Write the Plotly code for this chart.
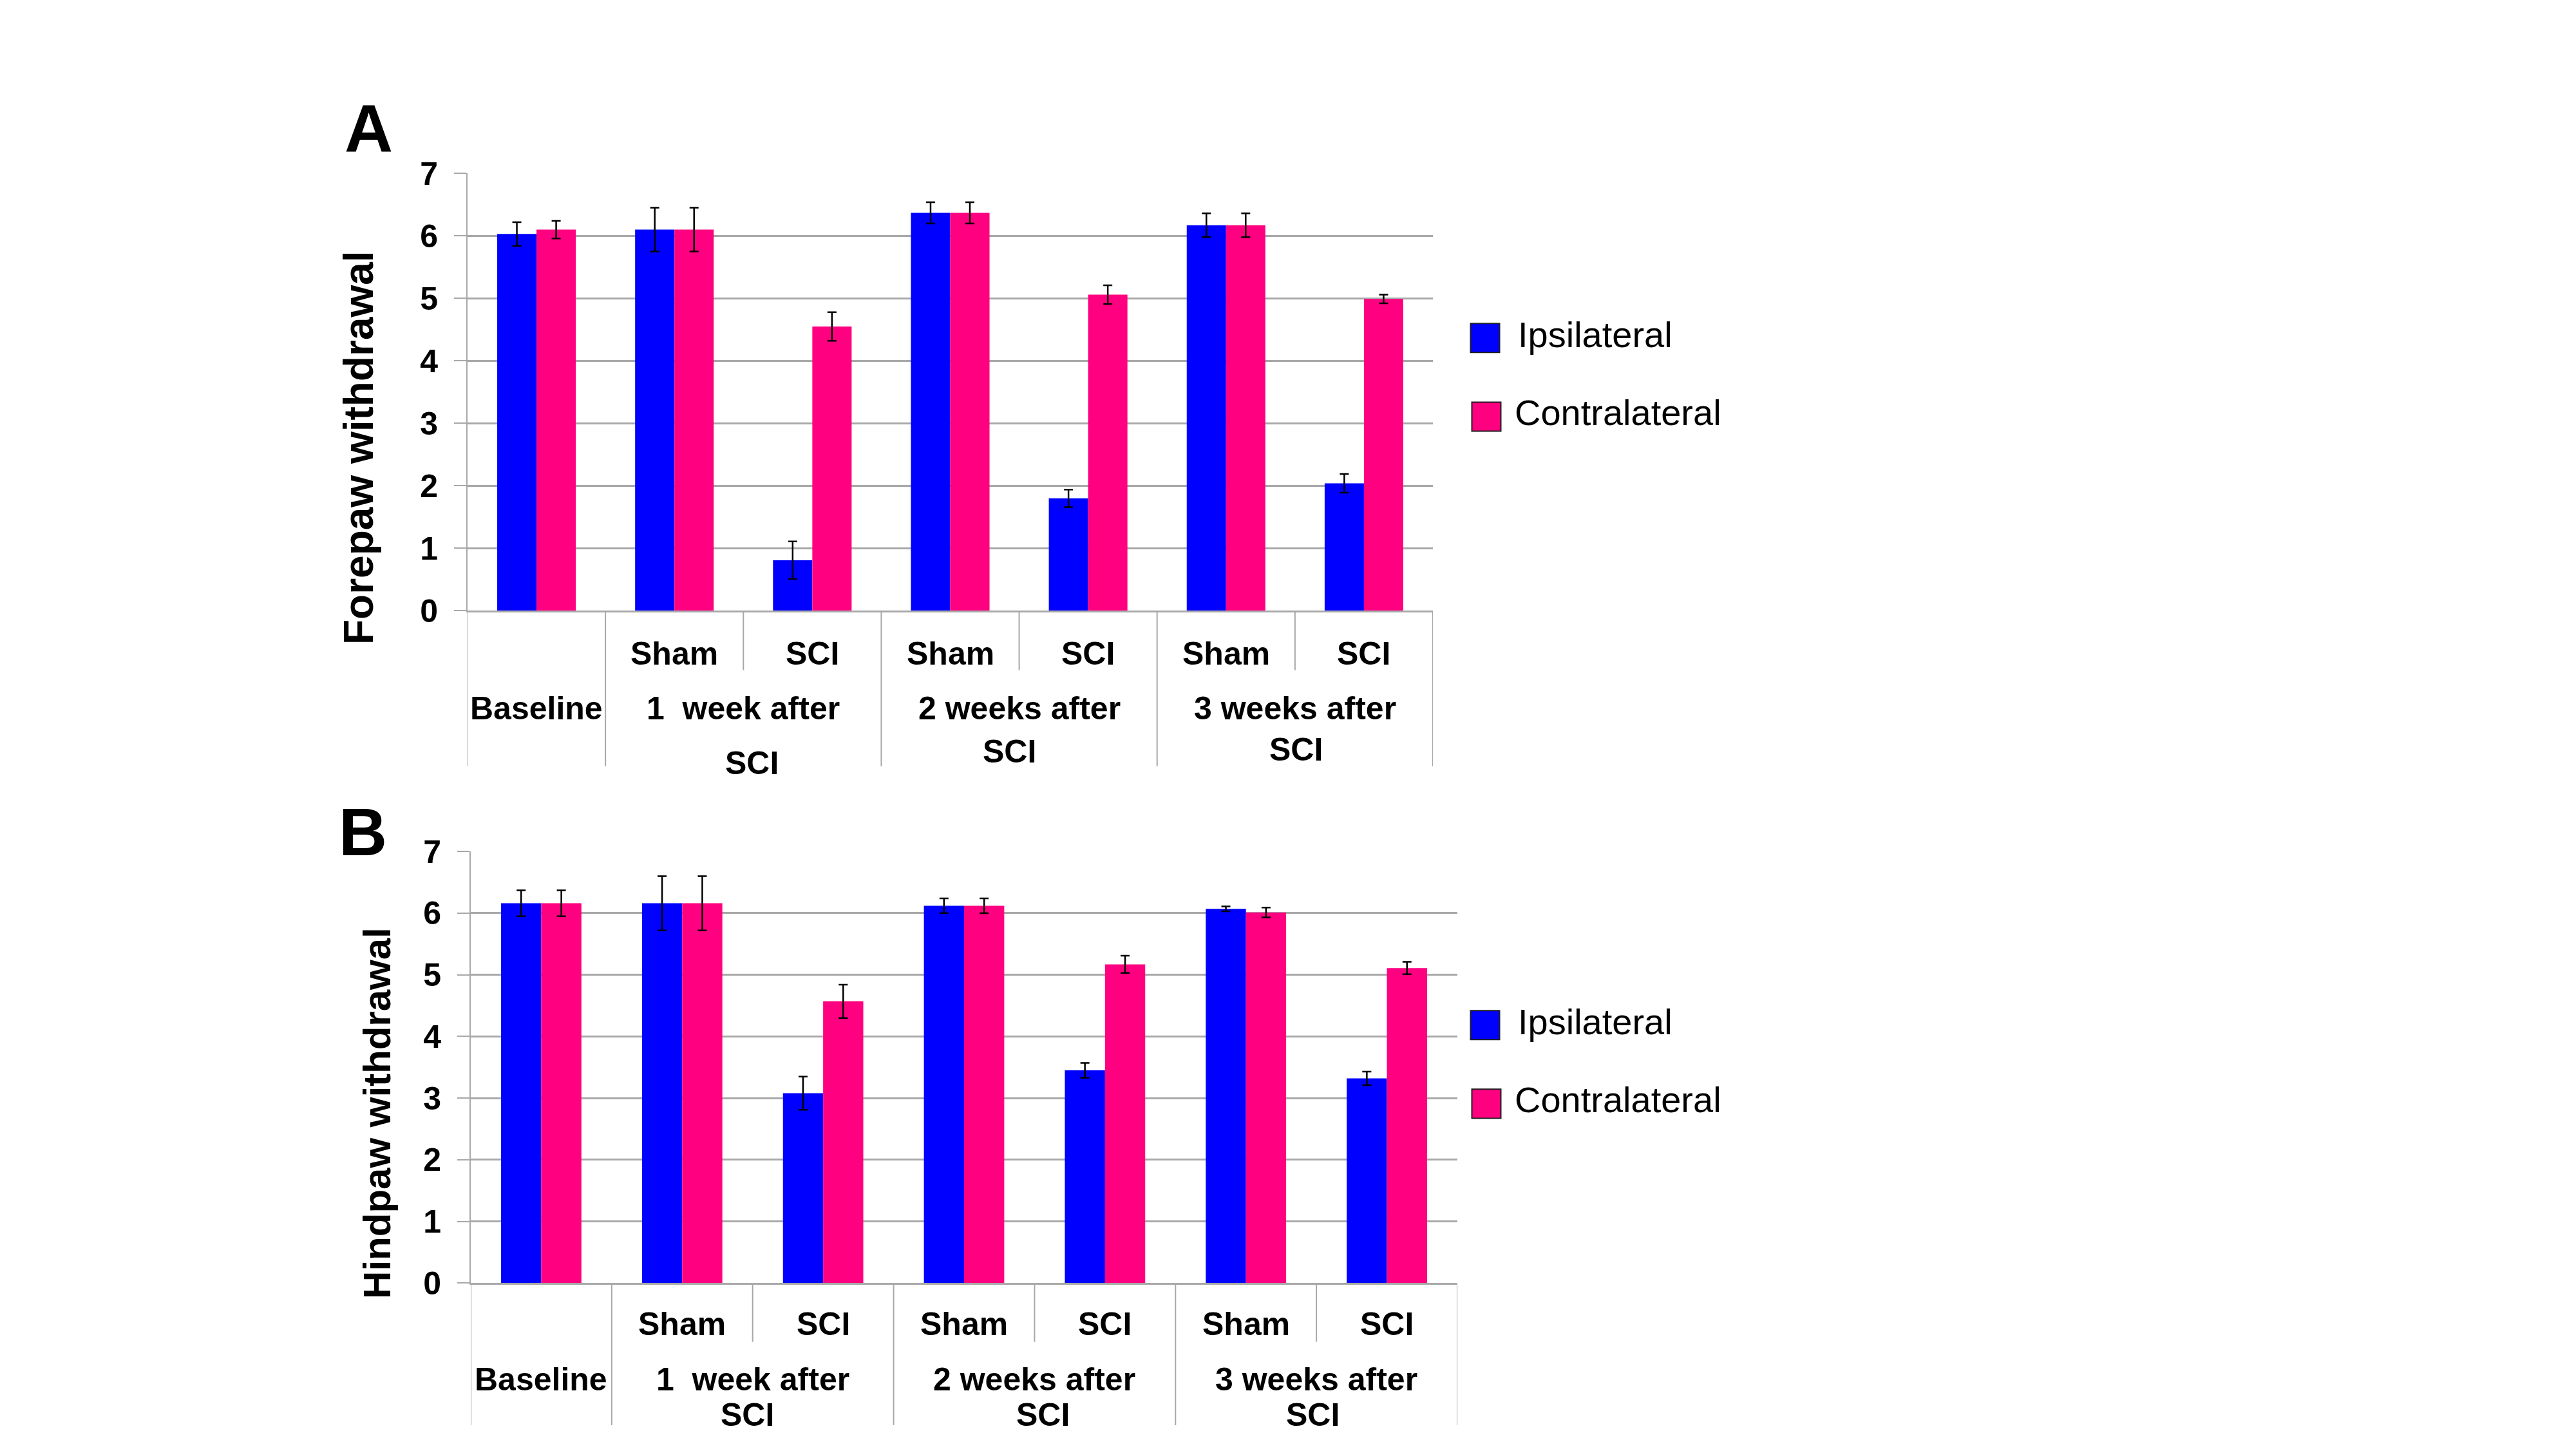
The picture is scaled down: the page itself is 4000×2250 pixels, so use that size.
import plotly.graph_objects as go

# ---------------- data ----------------
categories = ["Baseline", "1 week Sham", "1 week SCI", "2 weeks Sham", "2 weeks SCI", "3 weeks Sham", "3 weeks SCI"]
sub_labels = ["", "Sham", "SCI", "Sham", "SCI", "Sham", "SCI"]
group_line1 = ["Baseline", "1\u00a0 week after", "2 weeks after", "3 weeks after"]
group_line2 = ["", "SCI", "SCI", "SCI"]
group_spans = [(0, 0), (1, 2), (3, 4), (5, 6)]
series_names = ["Ipsilateral", "Contralateral"]

fore_ipsi = [6.03, 6.10, 0.81, 6.37, 1.80, 6.17, 2.04]
fore_ipsi_err = [0.19, 0.35, 0.30, 0.17, 0.14, 0.19, 0.15]
fore_contra = [6.10, 6.10, 4.55, 6.37, 5.06, 6.17, 4.99]
fore_contra_err = [0.14, 0.35, 0.23, 0.17, 0.15, 0.19, 0.07]

hind_ipsi = [6.16, 6.16, 3.08, 6.12, 3.45, 6.07, 3.32]
hind_ipsi_err = [0.21, 0.44, 0.27, 0.12, 0.12, 0.04, 0.11]
hind_contra = [6.16, 6.16, 4.57, 6.12, 5.17, 6.01, 5.11]
hind_contra_err = [0.21, 0.44, 0.27, 0.12, 0.14, 0.08, 0.10]

y_ticks = [0, 1, 2, 3, 4, 5, 6, 7]

# ---------------- styles ----------------
PAGE_W, PAGE_H = 4000, 2250
PAD = 8                      # default page margin around the figure
W, H = PAGE_W - 2 * PAD, PAGE_H - 2 * PAD
BLUE = "#0000FF"
PINK = "#FF0080"
GRID = "#A8A8A8"
FONT = "Liberation Sans, Arial, sans-serif"

# vertical framing of the photographed page (measured): shown = 0.9727 * page + 31.4
VY_SCALE, VY_OFF = 0.9727, 31.4
LOW_LIMIT = 2196             # lowest label centre that still fits on the page


def X(px):
    return (px - PAD) / W


def Y(py):
    page = (py - VY_OFF) / VY_SCALE
    return 1 - (page - PAD) / H


def YL(py):
    return Y(min(py, LOW_LIMIT))


panels = [
    dict(
        letter="A", letter_pos=(572, 202), title="Forepaw withdrawal", title_pos=(557, 697), title_size=64,
        x0=726, x1=2225, ytop=272, ybot=950,
        ipsi=fore_ipsi, ipsi_err=fore_ipsi_err, contra=fore_contra, contra_err=fore_contra_err,
        sub_y=1016, line1_y=1101, line2_y=[1186, 1168, 1165], line2_dx=[13, -15, 2],
        short_bot=1042, full_bot=1191,
        legend_sq=[(2306, 527), (2308, 649)], legend_txt=[(2355, 522), (2350, 643)],
    ),
    dict(
        letter="B", letter_pos=(563, 1293), title="Hindpaw withdrawal", title_pos=(586, 1729), title_size=60,
        x0=731, x1=2263, ytop=1323, ybot=1992,
        ipsi=hind_ipsi, ipsi_err=hind_ipsi_err, contra=hind_contra, contra_err=hind_contra_err,
        sub_y=2055, line1_y=2141, line2_y=[2207, 2217, 2218], line2_dx=[-8, 13, -6],
        short_bot=2083, full_bot=2230,
        legend_sq=[(2306, 1592), (2308, 1714)], legend_txt=[(2355, 1587), (2350, 1708)],
    ),
]

fig = go.Figure()
xpos = list(range(len(categories)))
annotations = []
shapes = []
layout_axes = {}

for i, p in enumerate(panels):
    sfx = "" if i == 0 else str(i + 1)
    xa, ya = "x" + sfx, "y" + sfx
    for name, vals, errs, col in [
        (series_names[0], p["ipsi"], p["ipsi_err"], BLUE),
        (series_names[1], p["contra"], p["contra_err"], PINK),
    ]:
        fig.add_trace(go.Bar(
            x=xpos, y=vals, name=name, xaxis=xa, yaxis=ya,
            marker=dict(color=col, line=dict(width=0)),
            error_y=dict(type="data", array=errs, visible=True, color="black", thickness=2.5, width=7),
            showlegend=False, hovertext=categories,
        ))

    layout_axes["xaxis" + sfx] = dict(
        domain=[X(p["x0"]), X(p["x1"])], anchor=ya, range=[-0.5, len(categories) - 0.5],
        showticklabels=False, ticks="", showgrid=False, zeroline=False,
        showline=True, linecolor=GRID, linewidth=3, fixedrange=True,
    )
    layout_axes["yaxis" + sfx] = dict(
        domain=[Y(p["ybot"]), Y(p["ytop"])], anchor=xa, range=[0, 7],
        tickvals=y_ticks, ticktext=[str(t) for t in y_ticks],
        tickfont=dict(size=50, color="black", family=FONT, weight="bold"),
        ticks="outside", ticklen=19, tickwidth=2, tickcolor=GRID, ticklabelstandoff=15,
        showgrid=True, gridcolor=GRID, gridwidth=2.5, zeroline=False,
        showline=True, linecolor=GRID, linewidth=2, fixedrange=True,
    )

    # panel letter and y title
    annotations.append(dict(
        text=p["letter"], x=X(p["letter_pos"][0]), y=Y(p["letter_pos"][1]), xref="paper", yref="paper",
        showarrow=False, xanchor="center", yanchor="middle",
        font=dict(size=104, color="black", family=FONT, weight="bold"),
    ))
    annotations.append(dict(
        text=p["title"], x=X(p["title_pos"][0]), y=Y(p["title_pos"][1]), xref="paper", yref="paper",
        showarrow=False, textangle=-90, xanchor="center", yanchor="middle",
        font=dict(size=p["title_size"], color="black", family=FONT, weight="bold"),
    ))

    lab_font = dict(size=50, color="black", family=FONT, weight="bold")
    # sub labels (Sham / SCI)
    for k, lab in enumerate(sub_labels):
        if lab:
            annotations.append(dict(
                text=lab, x=xpos[k], y=YL(p["sub_y"]), xref=xa, yref="paper",
                showarrow=False, xanchor="center", yanchor="middle", font=lab_font,
            ))
    # group labels
    for g, (a, b) in enumerate(group_spans):
        cx = (xpos[a] + xpos[b]) / 2
        annotations.append(dict(
            text=group_line1[g], x=cx, y=YL(p["line1_y"]), xref=xa, yref="paper",
            showarrow=False, xanchor="center", yanchor="middle", font=lab_font,
        ))
        if group_line2[g]:
            annotations.append(dict(
                text=group_line2[g], x=cx, y=YL(p["line2_y"][g - 1]), xref=xa, yref="paper",
                xshift=p["line2_dx"][g - 1],
                showarrow=False, xanchor="center", yanchor="middle", font=lab_font,
            ))

    # category dividers below axis
    full_edges = [a - 0.5 for a, b in group_spans] + [len(categories) - 0.5]
    short_edges = [a + 0.5 for a, b in group_spans if b > a]
    for e in full_edges:
        shapes.append(dict(type="line", xref=xa, yref="paper", x0=e, x1=e,
                           y0=Y(p["ybot"]), y1=max(Y(p["full_bot"]), 0), line=dict(color=GRID, width=2)))
    for e in short_edges:
        shapes.append(dict(type="line", xref=xa, yref="paper", x0=e, x1=e,
                           y0=Y(p["ybot"]), y1=Y(p["short_bot"]), line=dict(color=GRID, width=2)))

    # legend
    for (cx, cy), (tx, ty), name, col in zip(p["legend_sq"], p["legend_txt"], series_names, [BLUE, PINK]):
        s = 22.5
        shapes.append(dict(type="rect", xref="paper", yref="paper",
                           x0=X(cx - s), x1=X(cx + s), y0=Y(cy + s), y1=Y(cy - s),
                           fillcolor=col, line=dict(color="#202020", width=2)))
        annotations.append(dict(
            text=name, x=X(tx), y=Y(ty), xref="paper", yref="paper",
            showarrow=False, xanchor="left", yanchor="middle",
            font=dict(size=56, color="black", family=FONT),
        ))

fig.update_layout(
    width=W, height=H, margin=dict(l=0, r=0, t=0, b=0),
    paper_bgcolor="white", plot_bgcolor="white",
    barmode="group", bargap=0.43, bargroupgap=0,
    showlegend=False, annotations=annotations, shapes=shapes,
    **layout_axes,
)

fig.write_html("out.html")
